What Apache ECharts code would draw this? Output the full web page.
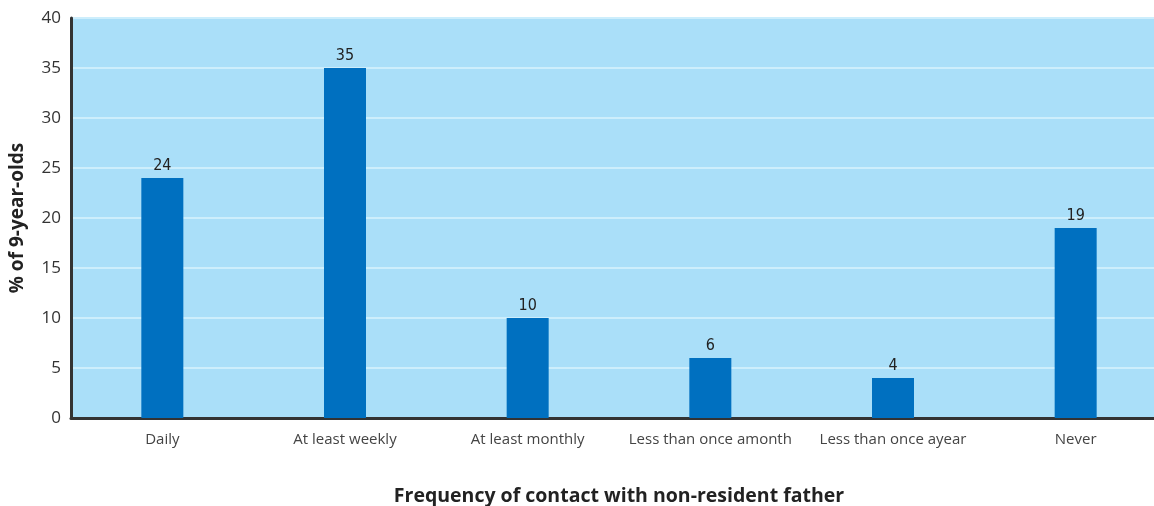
<!DOCTYPE html>
<html>
<head>
<meta charset="utf-8">
<script src="https://cdn.jsdelivr.net/npm/echarts@6/dist/echarts.min.js"></script>
<style>
  html, body { margin: 0; padding: 0; background: #ffffff; }
  #chart { width: 1154px; height: 506px; }
</style>
</head>
<body>
<div id="chart"></div>
<script>
// Frequency of contact with a non-resident father (% of 9-year-olds)
const categories = ['Daily', 'At least weekly', 'At least monthly', 'Less than once amonth', 'Less than once ayear', 'Never'];
const shares = [24, 35, 10, 6, 4, 19];
const yTicks = { min: 0, max: 40, interval: 5 };

const chart = echarts.init(document.getElementById('chart'), null, { renderer: 'canvas' });

chart.setOption({
  animation: false,
  grid: {
    left: 71,
    top: 18,
    width: 1096,
    height: 400,
    outerBoundsMode: 'none',
    containLabel: false,
    show: true,
    backgroundColor: '#aadff9',
    borderWidth: 0
  },
  xAxis: {
    type: 'category',
    data: categories,
    name: 'Frequency of contact with non-resident father',
    nameLocation: 'middle',
    nameGap: 68,
    nameTextStyle: {
      fontFamily: 'Open Sans',
      fontWeight: 'bold',
      fontSize: 19.5,
      color: '#222222'
    },
    axisLine: { show: true, lineStyle: { color: '#333333', width: 3 } },
    axisTick: { show: false },
    axisLabel: {
      interval: 0,
      fontFamily: 'Open Sans',
      fontSize: 15,
      color: '#444444',
      margin: 14
    },
    splitLine: { show: false }
  },
  yAxis: {
    type: 'value',
    min: yTicks.min,
    max: yTicks.max,
    interval: yTicks.interval,
    name: '% of 9-year-olds',
    nameLocation: 'middle',
    nameGap: 44,
    nameRotate: 90,
    nameTextStyle: {
      fontFamily: 'Open Sans',
      fontWeight: 'bold',
      fontSize: 19,
      color: '#222222'
    },
    axisLine: { show: true, lineStyle: { color: '#333333', width: 3 } },
    axisTick: { show: false },
    axisLabel: {
      fontFamily: 'Open Sans',
      fontSize: 17,
      color: '#333333',
      margin: 10
    },
    splitLine: { show: true, lineStyle: { color: '#cdeefc', width: 2 } }
  },
  series: [{
    type: 'bar',
    data: shares,
    barWidth: 42,
    itemStyle: { color: '#0070c0' },
    label: {
      show: true,
      position: 'top',
      distance: 4,
      fontFamily: "'DejaVu Sans Condensed', 'Liberation Sans'",
      fontSize: 16,
      color: '#222222'
    }
  }]
});
</script>
</body>
</html>
